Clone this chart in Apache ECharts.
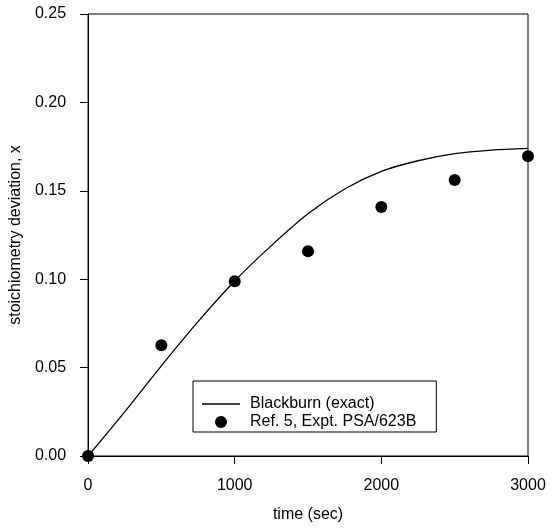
<!DOCTYPE html>
<html>
<head>
<meta charset="utf-8">
<script src="https://cdn.jsdelivr.net/npm/echarts@6/dist/echarts.min.js"></script>
<style>
  html, body { margin: 0; padding: 0; background: #fff; }
  #main { width: 552px; height: 528px; }
</style>
</head>
<body>
<div id="main"></div>
<script>
// Blackburn (exact) curve, time in sec
let curveTime = [0, 250, 500, 750, 1000, 1250, 1500, 1750, 2000, 2250, 2500, 2750, 3000]
let curveX = [0, 0.025, 0.051, 0.076, 0.099, 0.119, 0.137, 0.151, 0.161, 0.167, 0.171, 0.173, 0.174]
// Ref. 5 experiment points
let exptTime = [0, 500, 1000, 1500, 2000, 2500, 3000]
let exptX = [0, 0.0626, 0.0988, 0.1158, 0.1408, 0.1561, 0.1695]
// Tick labels
let xTicks = [0, 1000, 2000, 3000]
let yTicks = [0, 0.05, 0.1, 0.15, 0.2, 0.25]

const font = 'Liberation Sans, Arial, Helvetica, sans-serif'

let curveData = curveTime.map((t, i) => [t, curveX[i]])
let exptData = exptTime.map((t, i) => [t, exptX[i]])

let myChart = echarts.init(document.getElementById('main'))
let option = {
  animation: false,
  backgroundColor: '#fff',
  textStyle: { fontFamily: font, color: '#000' },
  grid: {
    left: 88,
    right: 24,
    top: 14,
    bottom: 68,
    show: true,
    borderColor: '#000',
    borderWidth: 1,
  },
  xAxis: {
    type: 'value',
    min: xTicks[0],
    max: xTicks[xTicks.length - 1],
    interval: xTicks[1] - xTicks[0],
    name: 'time (sec)',
    nameLocation: 'middle',
    nameGap: 51,
    nameTextStyle: { fontSize: 16, color: '#000', fontFamily: font },
    axisLine: { lineStyle: { color: '#000', width: 1 } },
    axisTick: { inside: false, length: 8, lineStyle: { color: '#000' } },
    axisLabel: {
      fontSize: 16,
      color: '#000',
      margin: 22,
      fontFamily: font,
      formatter: v => String(v),
    },
    splitLine: { show: false },
  },
  yAxis: {
    type: 'value',
    min: yTicks[0],
    max: yTicks[yTicks.length - 1],
    interval: 0.05,
    name: 'stoichiometry deviation, x',
    nameLocation: 'middle',
    nameGap: 54,
    nameTextStyle: { fontSize: 16, color: '#000', fontFamily: font },
    axisLine: { lineStyle: { color: '#000', width: 1 } },
    axisTick: { inside: false, length: 8, lineStyle: { color: '#000' } },
    axisLabel: {
      fontSize: 16,
      color: '#000',
      margin: 22,
      fontFamily: font,
      formatter: v => v.toFixed(2),
    },
    splitLine: { show: false },
  },
  legend: {
    orient: 'vertical',
    left: 193,
    top: 381,
    padding: [15, 20, 2, 9],
    itemGap: 2,
    itemWidth: 38,
    itemHeight: 12,
    borderColor: '#000',
    borderWidth: 1,
    backgroundColor: '#fff',
    textStyle: { fontSize: 16, color: '#000', fontFamily: font, padding: [0, 0, 0, 5] },
    data: [
      { name: 'Blackburn (exact)', icon: 'path://M0,0L38,0L38,1.3L0,1.3Z' },
      { name: 'Ref. 5, Expt. PSA/623B', icon: 'circle' },
    ],
  },
  series: [
    {
      name: 'Blackburn (exact)',
      type: 'line',
      data: curveData,
      smooth: 0.3,
      symbol: 'none',
      lineStyle: { color: '#000', width: 1.3 },
      itemStyle: { color: '#000' },
    },
    {
      name: 'Ref. 5, Expt. PSA/623B',
      type: 'scatter',
      data: exptData,
      symbol: 'circle',
      symbolSize: 12,
      clip: false,
      itemStyle: { color: '#000', opacity: 1 },
    },
  ],
}
myChart.setOption(option)
</script>
</body>
</html>
